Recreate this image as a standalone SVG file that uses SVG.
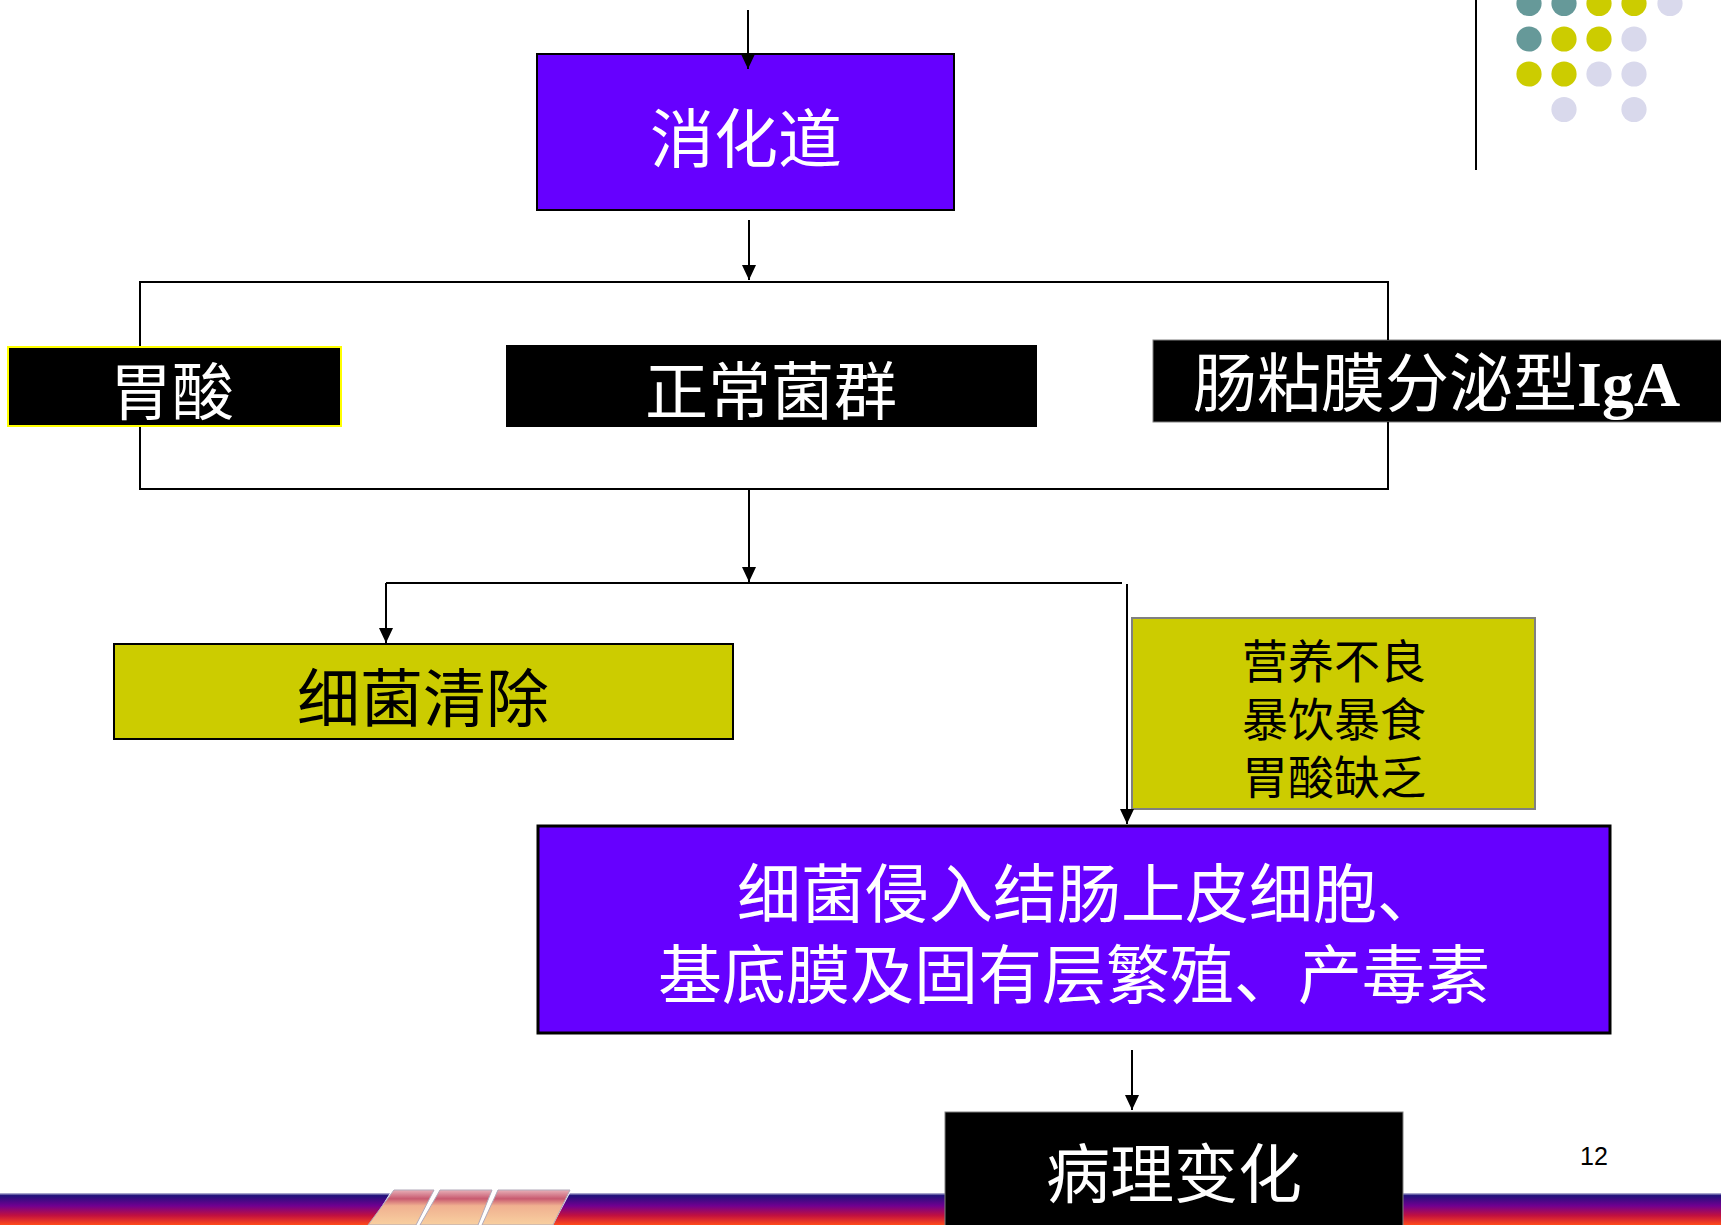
<svg xmlns="http://www.w3.org/2000/svg" width="1721" height="1225" viewBox="0 0 1721 1225">
<defs>
<style>
.cjk{font-family:"Liberation Sans","Noto Sans CJK SC",sans-serif;}
.w{fill:#ffffff;}
.k{fill:#000000;}
.conn line,.conn polyline{stroke:#000;stroke-width:2;fill:none;}
.arr{marker-end:url(#ah);}
.dot-t{fill:#669999;}
.dot-y{fill:#CCCC00;}
.dot-l{fill:#D9D9EC;}
</style>
<marker id="ah" viewBox="0 0 15 14" refX="15" refY="7" markerWidth="15" markerHeight="14" orient="auto" markerUnits="userSpaceOnUse">
<path d="M0,0 L15,7 L0,14 z" fill="#000"/>
</marker>
<linearGradient id="bar" x1="0" y1="0" x2="0" y2="1">
<stop offset="0" stop-color="#c8c8e0"/>
<stop offset="0.08" stop-color="#20107a"/>
<stop offset="0.4" stop-color="#700090"/>
<stop offset="0.7" stop-color="#c01040"/>
<stop offset="1" stop-color="#ff4a1a"/>
</linearGradient>
<linearGradient id="tile" x1="0" y1="0" x2="0" y2="1">
<stop offset="0" stop-color="#e8b0b8"/>
<stop offset="0.25" stop-color="#c85a70"/>
<stop offset="0.45" stop-color="#f0b090"/>
<stop offset="1" stop-color="#f8d0a0"/>
</linearGradient>
</defs>
<rect width="1721" height="1225" fill="#ffffff"/>

<g id="decor">
<line x1="1476" y1="0" x2="1476" y2="170" stroke="#000" stroke-width="2"/>
<circle class="dot-t" cx="1529" cy="3.5" r="12.6"/>
<circle class="dot-t" cx="1564" cy="3.5" r="12.6"/>
<circle class="dot-y" cx="1599" cy="3.5" r="12.6"/>
<circle class="dot-y" cx="1634" cy="3.5" r="12.6"/>
<circle class="dot-l" cx="1670" cy="3.5" r="12.6"/>
<circle class="dot-t" cx="1529" cy="39" r="12.6"/>
<circle class="dot-y" cx="1564" cy="39" r="12.6"/>
<circle class="dot-y" cx="1599" cy="39" r="12.6"/>
<circle class="dot-l" cx="1634" cy="39" r="12.6"/>
<circle class="dot-y" cx="1529" cy="74" r="12.6"/>
<circle class="dot-y" cx="1564" cy="74" r="12.6"/>
<circle class="dot-l" cx="1599" cy="74" r="12.6"/>
<circle class="dot-l" cx="1634" cy="74" r="12.6"/>
<circle class="dot-l" cx="1564" cy="109.5" r="12.6"/>
<circle class="dot-l" cx="1634" cy="109.5" r="12.6"/>
<polygon points="0,1193 390,1193 370,1225 0,1225" fill="url(#bar)"/>
<polygon points="570,1193 1721,1193 1721,1225 553,1225" fill="url(#bar)"/>
<polygon points="394,1190 434,1190 416,1225 368,1225" fill="url(#tile)" stroke="#b0a8b8" stroke-width="1"/>
<polygon points="440,1190 492,1190 478,1225 420,1225" fill="url(#tile)" stroke="#b0a8b8" stroke-width="1"/>
<polygon points="498,1190 570,1190 553,1225 482,1225" fill="url(#tile)" stroke="#b0a8b8" stroke-width="1"/>
<text x="1594" y="1165" font-family="Liberation Sans, Arial, sans-serif" font-size="25" text-anchor="middle" fill="#000">12</text>
</g>

<g id="node-xiaohuadao">
<rect x="537" y="54" width="417" height="156" fill="#6600FF" stroke="#000" stroke-width="2"/>
<text class="cjk w" x="746" y="162" font-size="64" text-anchor="middle">消化道</text>
</g>

<g id="node-weisuan">
<rect x="8" y="347" width="333" height="79" fill="#000" stroke="#FFFF00" stroke-width="2"/>
<text class="cjk w" x="172" y="415" font-size="62" text-anchor="middle">胃酸</text>
</g>

<g id="node-zhengchangjunqun">
<rect x="506" y="345" width="531" height="82" fill="#000"/>
<text class="cjk w" x="771" y="414" font-size="63" text-anchor="middle">正常菌群</text>
</g>

<g id="node-iga">
<rect x="1153" y="340" width="580" height="82" fill="#000" stroke="#808080" stroke-width="1"/>
<text class="w" x="1193" y="406" font-size="64"><tspan class="cjk">肠粘膜分泌型</tspan><tspan font-family="Liberation Serif, serif" font-weight="bold">IgA</tspan></text>
</g>

<g id="node-xijunqingchu">
<rect x="114" y="644" width="619" height="95" fill="#CCCC00" stroke="#000" stroke-width="2"/>
<text class="cjk k" x="423" y="721" font-size="63" text-anchor="middle">细菌清除</text>
</g>

<g id="node-factors">
<rect x="1132" y="618" width="403" height="191" fill="#CCCC00" stroke="#808080" stroke-width="2"/>
<text class="cjk k" x="1334" y="678" font-size="46" text-anchor="middle">营养不良</text>
<text class="cjk k" x="1334" y="736" font-size="46" text-anchor="middle">暴饮暴食</text>
<text class="cjk k" x="1334" y="794" font-size="46" text-anchor="middle">胃酸缺乏</text>
</g>

<g id="node-invasion">
<rect x="538" y="826" width="1072" height="207" fill="#6600FF" stroke="#000" stroke-width="3"/>
<text class="cjk w" x="1089" y="917" font-size="64" text-anchor="middle">细菌侵入结肠上皮细胞、</text>
<text class="cjk w" x="1074" y="998" font-size="64" text-anchor="middle">基底膜及固有层繁殖、产毒素</text>
</g>

<g id="node-bingli">
<rect x="945" y="1112" width="458" height="120" fill="#000" stroke="#808080" stroke-width="1"/>
<text class="cjk w" x="1174" y="1197" font-size="64" text-anchor="middle">病理变化</text>
</g>

<g id="connectors" class="conn">
<line class="arr" x1="748" y1="10" x2="748" y2="69"/>
<line class="arr" x1="749" y1="220" x2="749" y2="280"/>
<polyline points="140,346 140,282 1388,282 1388,340"/>
<polyline points="140,427 140,489 1388,489 1388,422"/>
<line class="arr" x1="749" y1="490" x2="749" y2="582"/>
<line x1="386" y1="583" x2="1122" y2="583"/>
<line class="arr" x1="386" y1="583" x2="386" y2="643"/>
<line class="arr" x1="1127" y1="584" x2="1127" y2="824"/>
<line class="arr" x1="1132" y1="1050" x2="1132" y2="1110"/>
</g>
</svg>
